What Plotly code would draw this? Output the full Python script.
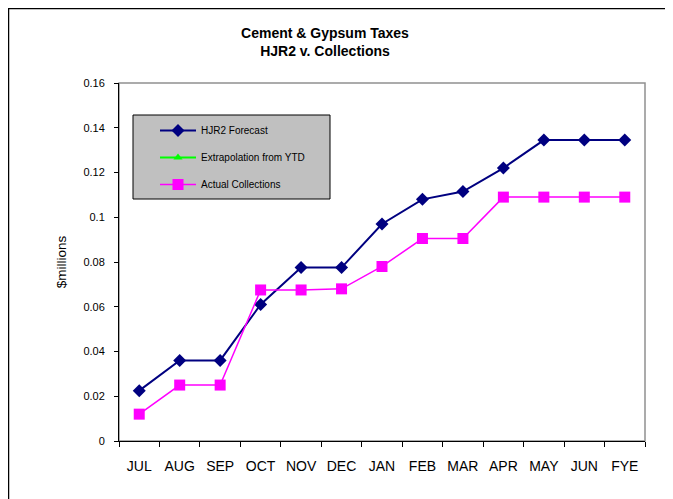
import plotly.graph_objects as go

months = ["JUL", "AUG", "SEP", "OCT", "NOV", "DEC", "JAN",
          "FEB", "MAR", "APR", "MAY", "JUN", "FYE"]

hjr2_forecast = [0.0225, 0.036, 0.036, 0.061, 0.0775, 0.0775, 0.097,
                 0.108, 0.1115, 0.122, 0.1345, 0.1345, 0.1345]
extrapolation_ytd = [None] * 13
actual_collections = [0.012, 0.025, 0.025, 0.0675, 0.0675, 0.068, 0.078,
                      0.0905, 0.0905, 0.109, 0.109, 0.109, 0.109]

y_ticks = [0, 0.02, 0.04, 0.06, 0.08, 0.1, 0.12, 0.14, 0.16]
y_ticktext = ["0", "0.02", "0.04", "0.06", "0.08", "0.1", "0.12", "0.14", "0.16"]

FONT = "Arial, Liberation Sans, sans-serif"

# page has an 8px body margin; work in page pixels and convert
OFF = 8
W, H = 673 - OFF, 499 - OFF
L, R, T, B = 119 - OFF, 645 - OFF, 83 - OFF, 441 - OFF


def px(x):
    return (x - OFF - L) / (R - L)


def py(y):
    return (B - (y - OFF)) / (B - T)


fig = go.Figure()

fig.add_trace(go.Scatter(x=months, y=hjr2_forecast, name="HJR2 Forecast",
                         mode="lines+markers", legendgroup="a",
                         line=dict(color="#000080", width=2),
                         marker=dict(symbol="diamond", size=10, color="#000080")))
fig.add_trace(go.Scatter(x=months, y=extrapolation_ytd,
                         name="Extrapolation from YTD",
                         mode="lines+markers", legendgroup="b",
                         line=dict(color="#00FF00", width=2),
                         marker=dict(symbol="triangle-up", size=8, color="#00FF00")))
fig.add_trace(go.Scatter(x=months, y=actual_collections,
                         name="Actual Collections",
                         mode="lines+markers", legendgroup="c",
                         line=dict(color="#FF00FF", width=1.5),
                         marker=dict(symbol="square", size=11, color="#FF00FF")))

fig.update_xaxes(type="category", tickson="boundaries", ticks="outside",
                 range=[-0.5, len(months) - 0.5],
                 ticklen=5, tickcolor="black", showline=True, linecolor="black",
                 linewidth=1, showgrid=False, zeroline=False, tickangle=0,
                 ticklabelstandoff=12,
                 tickfont=dict(family=FONT, size=14, color="black"))
fig.update_yaxes(range=[0, 0.16], tickvals=y_ticks, ticktext=y_ticktext,
                 ticks="outside", ticklen=4, tickcolor="black", showline=True,
                 linecolor="black", linewidth=1, showgrid=False, zeroline=False,
                 ticklabelstandoff=7,
                 tickfont=dict(family=FONT, size=11, color="black"),
                 title=dict(text="$millions", standoff=13,
                            font=dict(family=FONT, size=13.5, color="black")))

shapes = [
    # outer chart border
    dict(type="rect", xref="paper", yref="paper", x0=px(8.5), x1=px(671),
         y0=py(520), y1=py(8.5), line=dict(color="black", width=1.5),
         layer="below"),
    # plot area border
    dict(type="rect", xref="paper", yref="paper", x0=0, x1=1, y0=0, y1=1,
         line=dict(color="#909090", width=1.5), layer="below"),
    # legend box
    dict(type="rect", xref="paper", yref="paper", x0=px(133), x1=px(330),
         y0=py(199), y1=py(115), fillcolor="#C0C0C0",
         line=dict(color="black", width=1), layer="below"),
]

fig.update_layout(
    width=W, height=H,
    margin=dict(l=L, r=W - R, t=T, b=H - B),
    paper_bgcolor="white", plot_bgcolor="white",
    title=dict(text="<b>Cement & Gypsum Taxes<br>HJR2 v. Collections</b>",
               x=(325 - OFF) / W, xanchor="center", y=1 - 30 / H,
               yanchor="top",
               font=dict(family=FONT, size=14, color="black")),
    shapes=shapes,
    showlegend=True,
    legend=dict(x=px(155), y=py(116), xanchor="left", yanchor="top",
                bgcolor="rgba(0,0,0,0)", borderwidth=0, itemwidth=36,
                traceorder="grouped", tracegroupgap=8,
                font=dict(family=FONT, size=10, color="black")),
)

fig.write_html("out.html")
